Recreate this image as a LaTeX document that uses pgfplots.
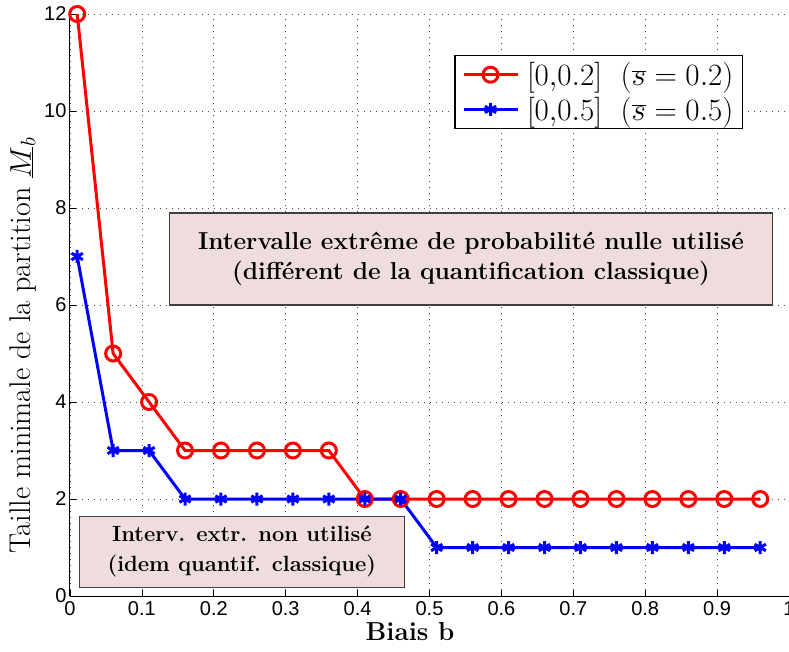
\RequirePackage{fix-cm}
\documentclass[border=0pt]{standalone}
\usepackage{fontspec}
\usepackage{pgfplots}
\pgfplotsset{compat=1.18}
\newfontfamily\helv{Liberation Sans}
\definecolor{boxfill}{RGB}{239,221,221}
\begin{document}
\begin{tikzpicture}
\begin{axis}[
  scale only axis, width=719pt, height=582pt,
  xmin=0, xmax=1, ymin=0, ymax=12,
  xtick={0,0.1,0.2,0.3,0.4,0.5,0.6,0.7,0.8,0.9,1},
  ytick={0,2,4,6,8,10,12},
  axis x line*=bottom, axis y line*=left,
  axis line style={line width=1pt},
  tick align=inside, major tick length=6pt, tick style={black, line width=0.8pt},
  grid=major, major grid style={black!70, line width=0.8pt, dash pattern=on 1pt off 5pt},
  /pgf/number format/assume math mode=true,
  ticklabel style={font=\helv\fontsize{20}{22}\selectfont},
  xticklabel style={yshift=-2pt},
  xlabel={\bfseries Biais b},
  ylabel={Taille minimale de la partition $\underline{M}_b$},
  xlabel style={font=\fontsize{26}{30}\selectfont, at={(axis description cs:0.473,0)}, anchor=base, yshift=-44pt},
  ylabel style={font=\fontsize{30}{34}\selectfont, at={(axis description cs:0,0.43)}, anchor=base, yshift=39pt},
  legend style={at={(0.936,0.93)}, anchor=north east, draw=black, line width=1.2pt,
    font=\fontsize{31}{34}\selectfont, inner xsep=7pt, inner ysep=5pt, row sep=6pt,
    /tikz/every odd column/.append style={column sep=6pt}},
  legend cell align=left,
  legend image code/.code={\draw[#1] (0pt,0pt) -- (54pt,0pt); \draw[#1, mark repeat=2, mark phase=2] plot coordinates {(0pt,0pt) (27pt,0pt) (54pt,0pt)};},
  clip=false,
]
\addplot[red, line width=3pt, mark=o, mark size=7.5pt, mark options={line width=3pt, solid}]
coordinates {
(0.01,12) (0.06,5) (0.11,4) (0.16,3) (0.21,3) (0.26,3) (0.31,3) (0.36,3)
(0.41,2) (0.46,2) (0.51,2) (0.56,2) (0.61,2) (0.66,2) (0.71,2) (0.76,2)
(0.81,2) (0.86,2) (0.91,2) (0.96,2)};
\addlegendentry{$[0{,}0.2]$~ $(\overline{s}=0.2)$}
\addplot[blue, line width=3pt, mark=asterisk, mark size=6.5pt, mark options={line width=3pt, solid}]
coordinates {
(0.01,7) (0.06,3) (0.11,3) (0.16,2) (0.21,2) (0.26,2) (0.31,2) (0.36,2)
(0.41,2) (0.46,2) (0.51,1) (0.56,1) (0.61,1) (0.66,1) (0.71,1) (0.76,1)
(0.81,1) (0.86,1) (0.91,1) (0.96,1)};
\addlegendentry{$[0{,}0.5]$~ $(\overline{s}=0.5)$}
\node[fill=boxfill, draw=black!75, line width=1.2pt, minimum width=603pt, minimum height=92pt,
  align=center, font=\bfseries\fontsize{24.5}{30}\selectfont]
  at (axis cs:0.5577,6.95) {Intervalle extrême de probabilité nulle utilisé\\(différent de la quantification classique)};
\node[fill=boxfill, draw=black!75, line width=1.2pt, minimum width=325pt, minimum height=71pt,
  align=center, font=\bfseries\fontsize{22}{30}\selectfont]
  at (axis cs:0.239,0.907) {Interv. extr. non utilisé\\(idem quantif. classique)};
\end{axis}
\pgfresetboundingbox
\path[use as bounding box] ([xshift=-70pt,yshift=-55pt]current axis.south west) rectangle ([xshift=719pt,yshift=596pt]current axis.south west);
\end{tikzpicture}
\end{document}
